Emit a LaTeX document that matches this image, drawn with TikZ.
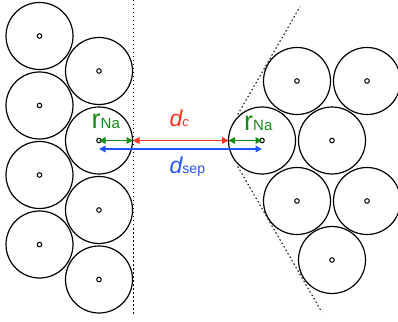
\documentclass[tikz,border=0pt]{standalone}
\usepackage{fontspec}
\setmainfont{Liberation Sans}
\usetikzlibrary{arrows.meta,calc}
\definecolor{cred}{RGB}{255,50,30}
\definecolor{cgreen}{RGB}{22,140,22}
\definecolor{cblue}{RGB}{35,85,255}
\tikzset{
  ball/.style={circle,draw,minimum size=67pt,inner sep=0pt,outer sep=0pt,line width=1.2pt},
  wall/.style={line width=1pt,dash pattern=on 1.5pt off 2.5pt},
  dim/.style={line width=1.5pt,{Triangle[length=6.5pt,width=6.5pt]}-{Triangle[length=6.5pt,width=6.5pt]}},
  lbl/.style={inner sep=0pt,anchor=base west},
}
\begin{document}
\begin{tikzpicture}[x=1pt,y=1pt]
\useasboundingbox (0,0) rectangle (398,321);
% left group
\node[ball] (A1) at (39.5,285) {};
\node[ball] (A2) at (39.5,215.5) {};
\node[ball] (A3) at (39.5,146) {};
\node[ball] (A4) at (39.5,76.5) {};
\node[ball] (B1) at (99,250) {};
\node[ball] (B2) at (99,180.5) {};
\node[ball] (B3) at (99,111) {};
\node[ball] (B4) at (99,41.5) {};
% right group
\node[ball] (C1) at (297,240) {};
\node[ball] (C2) at (367,240) {};
\node[ball] (D1) at (262,180.5) {};
\node[ball] (D2) at (332,180.5) {};
\node[ball] (E1) at (297,120) {};
\node[ball] (E2) at (367,120) {};
\node[ball] (F1) at (332,61) {};
\foreach \n in {A1,A2,A3,A4,B1,B2,B3,B4,C1,C2,D1,D2,E1,E2,F1}
  \draw[line width=1pt] (\n.center) circle (2.3pt);
% walls
\coordinate (wt) at (133,321);
\coordinate (wb) at (133,5);
\draw[wall] (wt) -- (wb);
\coordinate (apex) at (222.7,180.5);
\coordinate (u1) at ($(apex)+(60:30)$);
\coordinate (u2) at ($(apex)+(60:154.5)$);
\coordinate (l1) at ($(apex)+(-60:30)$);
\coordinate (l2) at ($(apex)+(-60:198)$);
\draw[wall] (u1) -- (u2);
\draw[wall] (l1) -- (l2);
% dimension arrows
\coordinate (wl) at (133,180.5);
\draw[dim,cgreen] (B2.center) -- (wl);
\draw[dim,cred] (wl) -- (D1.west);
\draw[dim,cgreen] (D1.west) -- (D1.center);
\draw[dim,cblue] ($(B2.center)+(0,-8.5)$) -- ($(D1.center)+(0,-8.5)$);
% labels
\node[lbl,text=cgreen] (rl) at (91.5,192) {\fontsize{27}{27}\selectfont r\fontsize{15}{15}\selectfont Na};
\node[lbl,text=cgreen] (rr) at (244,190.5) {\fontsize{27}{27}\selectfont r\fontsize{15}{15}\selectfont Na};
\node[lbl,text=cred] (dc) at (169.5,194.3) {\fontsize{23}{23}\selectfont\itshape d\fontsize{13}{13}\selectfont c};
\node[lbl,text=cblue] (ds) at (169.5,147) {\fontsize{23}{23}\selectfont\itshape d\upshape\fontsize{14}{14}\selectfont sep};
\end{tikzpicture}
\end{document}
